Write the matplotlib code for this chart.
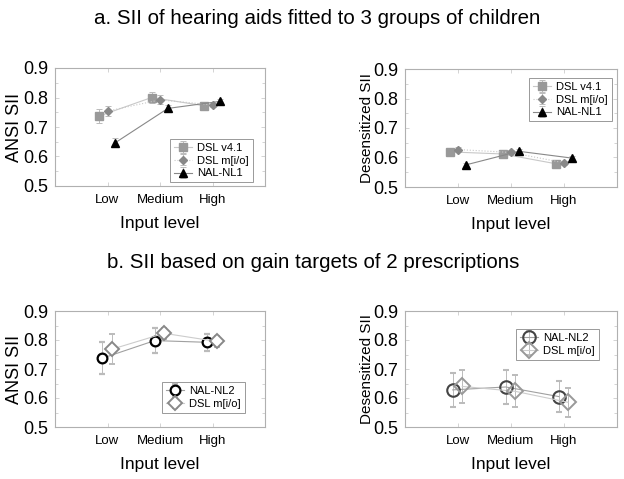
import matplotlib
matplotlib.use("Agg")
import matplotlib.pyplot as plt
from matplotlib.ticker import MultipleLocator
import numpy as np

plt.rcParams['font.family'] = ['Liberation Sans', 'DejaVu Sans']

levels = ['Low', 'Medium', 'High']

# Panel a: ANSI SII
dsl41_ansi = [0.737, 0.800, 0.772]
dsl41_ansi_err = [0.025, 0.020, 0.010]
dslmio_ansi = [0.754, 0.792, 0.775]
dslmio_ansi_err = [0.018, 0.015, 0.008]
nal1_ansi = [0.647, 0.763, 0.787]
nal1_ansi_err = [0.015, 0.012, 0.008]

# Panel a: Desensitized SII
dsl41_des = [0.619, 0.612, 0.579]
dsl41_des_err = [0.008, 0.008, 0.008]
dslmio_des = [0.627, 0.617, 0.582]
dslmio_des_err = [0.007, 0.007, 0.007]
nal1_des = [0.575, 0.621, 0.598]
nal1_des_err = [0.007, 0.007, 0.007]

# Panel b: ANSI SII
nal2_ansi = [0.737, 0.798, 0.792]
nal2_ansi_err = [0.055, 0.044, 0.029]
dslmio2_ansi = [0.768, 0.823, 0.795]
dslmio2_ansi_err = [0.051, 0.020, 0.020]

# Panel b: Desensitized SII
nal2_des = [0.628, 0.638, 0.605]
nal2_des_err = [0.058, 0.057, 0.053]
dslmio2_des = [0.640, 0.623, 0.585]
dslmio2_des_err = [0.058, 0.055, 0.051]

W, H = 624, 479
fig = plt.figure(figsize=(W / 100, H / 100), dpi=100)

def box(x0, y0, x1, y1):
    return [x0 / W, 1 - y1 / H, (x1 - x0) / W, (y1 - y0) / H]

ax1 = fig.add_axes(box(55, 68, 265, 186))
ax2 = fig.add_axes(box(405, 69, 617, 187))
ax3 = fig.add_axes(box(55, 311, 265, 427))
ax4 = fig.add_axes(box(405, 311, 617, 427))

x = np.arange(1, len(levels) + 1)
ecol = '#bbbbbb'

def style(ax, ylabel, ylsize, ylpad):
    ax.set_xlim(0, 4)
    ax.set_ylim(0.5, 0.9)
    ax.set_xticks(x)
    ax.set_xticklabels(levels, fontsize=9.5)
    ax.yaxis.set_major_locator(MultipleLocator(0.1))
    ax.yaxis.set_minor_locator(MultipleLocator(0.05))
    ax.set_yticklabels([f'{v:.1f}' for v in ax.get_yticks()])
    ax.tick_params(axis='y', labelsize=13, pad=5)
    ax.tick_params(axis='x', pad=6)
    ax.tick_params(which='both', direction='in', top=True, right=True,
                   color='#cccccc', length=3, width=0.6)
    ax.tick_params(which='minor', length=2)
    for s in ax.spines.values():
        s.set_color('#b0b0b0')
        s.set_linewidth(0.8)
    ax.set_ylabel(ylabel, fontsize=ylsize, labelpad=ylpad)
    ax.set_xlabel('Input level', fontsize=12.5, labelpad=7)

def eb(ax, xs, ys, es, **kw):
    return ax.errorbar(xs, ys, yerr=es, ecolor=ecol, elinewidth=0.7,
                       capsize=2, capthick=0.7, **kw)

# Panel a left
eb(ax1, x - 0.16, dsl41_ansi, dsl41_ansi_err, fmt='s', color='#c8c8c8', lw=0.8,
   ls='-', mfc='#999999', mec='#999999', ms=5.5, label='DSL v4.1')
eb(ax1, x, dslmio_ansi, dslmio_ansi_err, fmt='D', color='#c8c8c8', lw=0.8,
   ls=':', mfc='#888888', mec='#888888', ms=4, label='DSL m[i/o]')
eb(ax1, x + 0.15, nal1_ansi, nal1_ansi_err, fmt='^', color='#888888', lw=0.8,
   ls='-', mfc='black', mec='black', ms=6, label='NAL-NL1')

# Panel a right
eb(ax2, x - 0.16, dsl41_des, dsl41_des_err, fmt='s', color='#c8c8c8', lw=0.8,
   ls='-', mfc='#999999', mec='#999999', ms=5.5, label='DSL v4.1')
eb(ax2, x, dslmio_des, dslmio_des_err, fmt='D', color='#c8c8c8', lw=0.8,
   ls=':', mfc='#888888', mec='#888888', ms=4, label='DSL m[i/o]')
eb(ax2, x + 0.15, nal1_des, nal1_des_err, fmt='^', color='#888888', lw=0.8,
   ls='-', mfc='black', mec='black', ms=6, label='NAL-NL1')

# Panel b left
eb(ax3, x - 0.1, nal2_ansi, nal2_ansi_err, fmt='o', color='#a0a0a0', lw=0.8,
   ls='-', mfc='white', mec='black', mew=1.6, ms=7, label='NAL-NL2')
eb(ax3, x + 0.08, dslmio2_ansi, dslmio2_ansi_err, fmt='D', color='#cccccc', lw=0.8,
   ls='-', mfc='white', mec='#888888', mew=1.4, ms=7, label='DSL m[i/o]')

# Panel b right
eb(ax4, x - 0.1, nal2_des, nal2_des_err, fmt='o', color='#a0a0a0', lw=0.8,
   ls='-', mfc='none', mec='#444444', mew=1.5, ms=9, label='NAL-NL2')
eb(ax4, x + 0.08, dslmio2_des, dslmio2_des_err, fmt='D', color='#cccccc', lw=0.8,
   ls='-', mfc='none', mec='#999999', mew=1.4, ms=8.5, label='DSL m[i/o]')

style(ax1, 'ANSI SII', 13, 0)
style(ax2, 'Desensitized SII', 11, -1)
style(ax3, 'ANSI SII', 13, 0)
style(ax4, 'Desensitized SII', 11, -1)

def leg(ax, x0, y1):
    lg = ax.legend(loc='upper left', bbox_to_anchor=(x0, y1), borderaxespad=0,
                   fontsize=8, fancybox=False, framealpha=1, edgecolor='#999999',
                   handlelength=1.6, handletextpad=0.5, borderpad=0.35,
                   labelspacing=0.25)
    lg.get_frame().set_linewidth(0.7)

leg(ax1, 0.548, 0.398)
leg(ax2, 0.585, 0.924)
leg(ax3, 0.51, 0.388)
leg(ax4, 0.524, 0.845)

fig.text(0.508, 1 - 19 / H, 'a. SII of hearing aids fitted to 3 groups of children',
         ha='center', va='center', fontsize=14.8)
fig.text(0.502, 1 - 262 / H, 'b. SII based on gain targets of 2 prescriptions',
         ha='center', va='center', fontsize=14.8)

fig.savefig('out.png', dpi=100)
